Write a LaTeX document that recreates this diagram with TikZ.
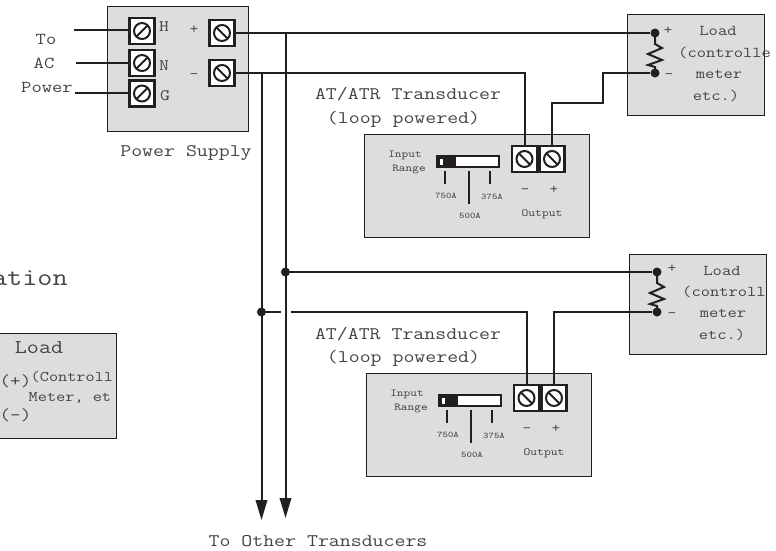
\documentclass[tikz,border=0pt]{standalone}
\usetikzlibrary{arrows.meta}
\definecolor{boxgray}{HTML}{DCDDDF}
\definecolor{ink}{HTML}{231F20}
\definecolor{txt}{HTML}{444444}
\newcommand{\monosize}[1]{\fontsize{#1pt}{#1pt}\selectfont\ttfamily}
\tikzset{
  x=1pt,y=-1pt,
  lbl/.style={inner sep=0pt,text=txt,xscale=1.2,transform shape,font=\monosize{#1}},
  panel/.style={draw=ink,line width=1pt,fill=boxgray},
  wire/.style={draw=ink,line width=2pt},
  thinwire/.style={draw=ink,line width=1.8pt},
  dot/.style={circle,fill=ink,inner sep=0pt,minimum width=9pt},
  scrbox/.style={draw=ink,line width=2.4pt,fill=white,minimum width=25pt,minimum height=26pt,inner sep=0pt},
  arrowed/.style={wire,-{Triangle[length=20pt,width=11.5pt]}},
  pics/screw/.style={code={
    \node[scrbox] (-box) at (0,0) {};
    \draw[draw=ink,line width=2pt] (0,0) circle[radius=8pt];
    \draw[draw=ink,line width=2pt] (-5.6,#1*5.6) -- (5.6,-#1*5.6);
  }},
  pics/transducer/.style={code={
    \node[panel,anchor=north west,minimum width=225pt,minimum height=103pt,inner sep=0pt] (-panel) at (0,0) {};
    \node[lbl=10.6] (-inp) at (41,21) {Input};
    \node[lbl=10.6] (-rng) at (45,35) {Range};
    \fill[white,draw=ink,line width=1.6pt] (73,22) rectangle (135,33);
    \fill[ink] (73,22) rectangle (92,33);
    \fill[white] (75.5,24.5) rectangle (79,30.5);
    \draw[thinwire] (81,37) -- (81,50);
    \draw[thinwire] (105,37) -- (105,70);
    \draw[thinwire] (126,37) -- (126,50);
    \node[lbl=8.6] (-a) at (82,62) {750A};
    \node[lbl=8.6] (-b) at (128,63) {375A};
    \node[lbl=8.6] (-c) at (106,82) {500A};
    \node[lbl=14] (-m) at (161,57) {\textendash};
    \node[lbl=14] (-p) at (190,56) {+};
    \node[lbl=10.8] (-o) at (178,80) {Output};
    \pic (-neg) at (160.5,25) {screw=-1};
    \pic (-pos) at (188,25) {screw=-1};
  }},
  pics/resistor/.style={code={
    \draw[draw=ink,line width=2pt,line join=miter] (0,0) -- (0,11) -- (7,15) -- (-7,21) -- (7,27) -- (-7,32) -- (0,34) -- (0,40);
  }},
}
\begin{document}
\begin{tikzpicture}
\useasboundingbox (0,0) rectangle (776,550);
\clip (0,0) rectangle (776,550);

% panels
\node[panel,anchor=north west,minimum width=141pt,minimum height=125pt,inner sep=0pt] (psu) at (107,6) {};
\node[panel,anchor=north west,minimum width=137pt,minimum height=101pt,inner sep=0pt] (load1) at (627,14) {};
\node[panel,anchor=north west,minimum width=137pt,minimum height=100pt,inner sep=0pt] (load2) at (629,254) {};
\node[panel,anchor=north west,minimum width=126pt,minimum height=105pt,inner sep=0pt] (load3) at (-10,333) {};
\pic (ta) at (364,134) {transducer};
\pic (tb) at (366,373) {transducer};

% screws
\pic (h) at (142,31) {screw=1};
\pic (n) at (142,63) {screw=1};
\pic (g) at (142,93.5) {screw=1};
\pic (sp) at (222,33) {screw=-1};
\pic (sn) at (222,73) {screw=-1};

% load terminals
\node[dot] (lp1) at (655,33) {};
\node[dot] (ln1) at (655,73) {};
\node[dot] (lp2) at (657,272) {};
\node[dot] (ln2) at (657,312) {};
\pic at (655,33) {resistor};
\pic at (657,272) {resistor};

% free ends and junctions
\coordinate (acH) at (74,30);
\coordinate (acN) at (76,63);
\coordinate (acG) at (75,93);
\coordinate (tp) at (285.5,33);
\coordinate (tn) at (261.5,73);
\coordinate (endp) at (285.5,518);
\coordinate (endn) at (261.5,520);
\node[dot] (jp) at (285.5,272) {};
\node[dot] (jn) at (261.5,312) {};
\coordinate (stub) at (281,312);
\coordinate (rest) at (291,312);
\coordinate (c1) at (603,103);

% wires
\draw[wire] (acH) -- (h-box.west |- acH);
\draw[wire] (acN) -- (n-box.west |- acN);
\draw[wire] (acG) -- (g-box.west |- acG);
\draw[wire] (sp-box.east) -- (lp1);
\draw[wire] (sn-box.east) -| (ta-neg-box.north);
\draw[wire] (ta-pos-box.north) |- (c1) |- (ln1);
\draw[arrowed] (tp) -- (endp);
\draw[arrowed] (tn) -- (endn);
\draw[wire] (jp) -- (lp2);
\draw[wire] (jn) -- (stub);
\draw[wire] (rest) -| (tb-neg-box.north);
\draw[wire] (tb-pos-box.north) |- (ln2);

% text
\node[lbl=16.7] (tTo) at (46,39) {To};
\node[lbl=16.7] (tAC) at (44,63) {AC};
\node[lbl=16.7] (tPw) at (47,87) {Power};
\node[lbl=16] (tH) at (164,27) {H};
\node[lbl=16] (tN) at (164,66) {N};
\node[lbl=16] (tG) at (165,96) {G};
\node[lbl=14.3] (tP) at (194,30) {+};
\node[lbl=14.3] (tM) at (194,76) {\textendash};
\node[lbl=17.7] (tPS) at (186,153) {Power Supply};
\node[lbl=17.7] (tA1) at (408,94) {AT/ATR Transducer};
\node[lbl=17.7] (tB1) at (403.5,119) {(loop powered)};
\node[lbl=17.7] (tA2) at (408,334) {AT/ATR Transducer};
\node[lbl=17.7] (tB2) at (403.5,358) {(loop powered)};
\node[lbl=17.7] (tOther) at (318,541) {To Other Transducers};
\node[lbl=24.5,anchor=east] (tCap) at (68,278) {ation};

% load 1
\node[lbl=14.3] at (668,31) {+};
\node[lbl=14.3] at (669,76) {\textendash};
\node[lbl=15] at (718,31) {Load};
\node[lbl=15] at (716,96) {etc.)};
\node[lbl=15] at (719,74) {meter};
\begin{scope}
\clip (600,0) rectangle (770,120);
\node[lbl=15,anchor=west] at (678,53) {(controlle};
\end{scope}
% load 2
\node[lbl=14.3] at (672,269) {+};
\node[lbl=14.3] at (672,315) {\textendash};
\node[lbl=15] at (722,271) {Load};
\node[lbl=15] at (722,335) {etc.)};
\node[lbl=15] at (723,313) {meter};
\begin{scope}
\clip (600,250) rectangle (768,360);
\node[lbl=15,anchor=west] at (682,292) {(controll};
\end{scope}
% left load
\node[lbl=19.5] at (39,348) {Load};
\node[lbl=17] at (15.5,381) {(+)};
\node[lbl=17] at (15.5,415) {(\textendash)};
\begin{scope}
\clip (0,330) rectangle (116,440);
\node[lbl=14.8,anchor=west] at (30.5,377) {(Controll};
\node[lbl=14.8,anchor=west] at (28.5,398) {Meter, et};
\end{scope}
\end{tikzpicture}
\end{document}
